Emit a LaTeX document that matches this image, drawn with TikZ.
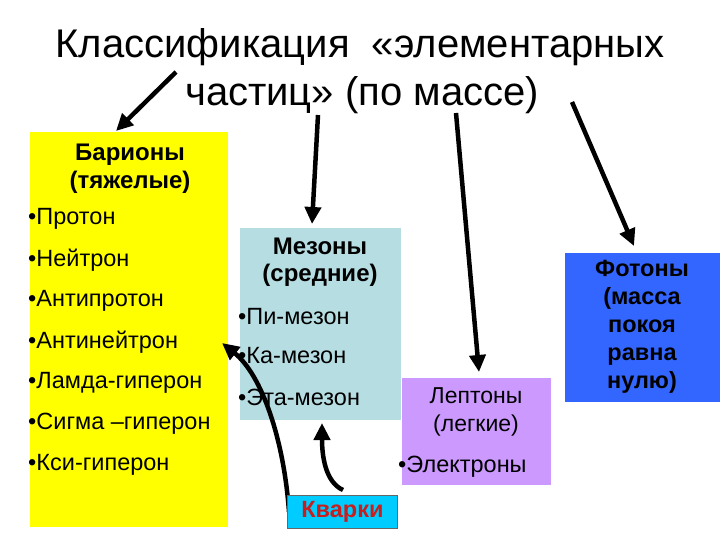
\documentclass[tikz,border=0pt]{standalone}
\usepackage{fontspec}
\setmainfont{Liberation Sans}
\usetikzlibrary{arrows.meta}
\definecolor{barion}{RGB}{255,255,0}
\definecolor{mezon}{RGB}{182,222,226}
\definecolor{lepton}{RGB}{204,153,255}
\definecolor{foton}{RGB}{51,102,255}
\definecolor{kvark}{RGB}{0,204,255}
\definecolor{kvarktext}{RGB}{200,30,30}
\begin{document}
\begin{tikzpicture}[x=1pt,y=-1pt,
		box/.style={anchor=north west,inner sep=0pt},
		item/.style={anchor=west,inner sep=0pt,font=\fontsize{23.5}{28}\selectfont},
		head/.style={inner sep=0pt,font=\bfseries\fontsize{24}{28}\selectfont},
		arr/.style={line width=4.5pt,-{Triangle[length=17pt,width=16pt]}}]
		\useasboundingbox (0,0) rectangle (720,540);
		%\draw[gray,step=20] (0,0) grid (720,540);
		% title
		\node[font=\fontsize{40}{46}\selectfont] (title1) at (360,47) {Классификация \ «элементарных};
		\node[font=\fontsize{40}{46}\selectfont] (title2) at (362,95) {частиц» (по массе)};
		% boxes
		\node[box,fill=barion,minimum width=198pt,minimum height=395pt] (bar) at (30,132) {};
		\node[box,fill=mezon,minimum width=161pt,minimum height=192pt] (mez) at (240,228) {};
		\node[box,fill=lepton,minimum width=149pt,minimum height=107pt] (lep) at (402,378) {};
		\node[box,fill=foton,minimum width=155pt,minimum height=149pt] (fot) at (565,253) {};
		% barions
		\node[head] (barh1) at (130,155) {Барионы};
		\node[head] (barh2) at (130,182) {(тяжелые)};
		\node[item] (bar1) at (28,219) {•Протон};
		\node[item] (bar2) at (28,260) {•Нейтрон};
		\node[item] (bar3) at (28,301) {•Антипротон};
		\node[item] (bar4) at (28,342) {•Антинейтрон};
		\node[item] (bar5) at (28,383) {•Ламда-гиперон};
		\node[item] (bar6) at (28,424) {•Сигма –гиперон};
		\node[item] (bar7) at (28,465) {•Кси-гиперон};
		% mezons
		\node[head] (mezh1) at (320,246) {Мезоны};
		\node[head] (mezh2) at (320,275) {(средние)};
		\node[item] (mez1) at (238,317) {•Пи-мезон};
		\node[item] (mez2) at (238,356) {•Ка-мезон};
		\node[item] (mez3) at (238,397) {•Эта-мезон};
		% leptons
		\node[inner sep=0pt,font=\fontsize{23}{28}\selectfont] (leph1) at (476,396) {Лептоны};
		\node[inner sep=0pt,font=\fontsize{23}{28}\selectfont] (leph2) at (476,426) {(легкие)};
		\node[item] (lep1) at (398,467) {•Электроны};
		% fotons
		\node[head,align=center,font=\bfseries\fontsize{23.5}{28}\selectfont] (foth) at (642,327) {Фотоны\\(масса\\покоя\\равна\\нулю)};
		% arrows from title
		\coordinate (t1) at (176,72);
		\coordinate (t2) at (318,115);
		\coordinate (t3) at (456,113);
		\coordinate (t4) at (572,102);
		\coordinate (e1) at (116,131);
		\coordinate (e2) at (312,224);
		\coordinate (e3) at (479,372);
		\coordinate (e4) at (634,246);
		\draw[arr] (t1) -- (e1);
		\draw[arr] (t2) -- (e2);
		\draw[arr] (t3) -- (e3);
		\draw[arr] (t4) -- (e4);
		% quarks
		\coordinate (k1) at (289,512);
		\coordinate (k2) at (343,490);
		\coordinate (q1) at (222,343);
		\coordinate (q2) at (322,423);
		\draw[arr] (k1) .. controls (284,440) and (262,375) .. (q1);
		\draw[arr] (k2) .. controls (325,482) and (322,455) .. (q2);
		\node[box,fill=kvark,draw=black!60,line width=0.8pt,minimum width=110pt,minimum height=33pt] (kv) at (287,495) {};
		\node[inner sep=0pt,text=kvarktext,font=\bfseries\fontsize{23.5}{28}\selectfont] (kvh) at (kv.center) {Кварки};
\end{tikzpicture}
\end{document}
